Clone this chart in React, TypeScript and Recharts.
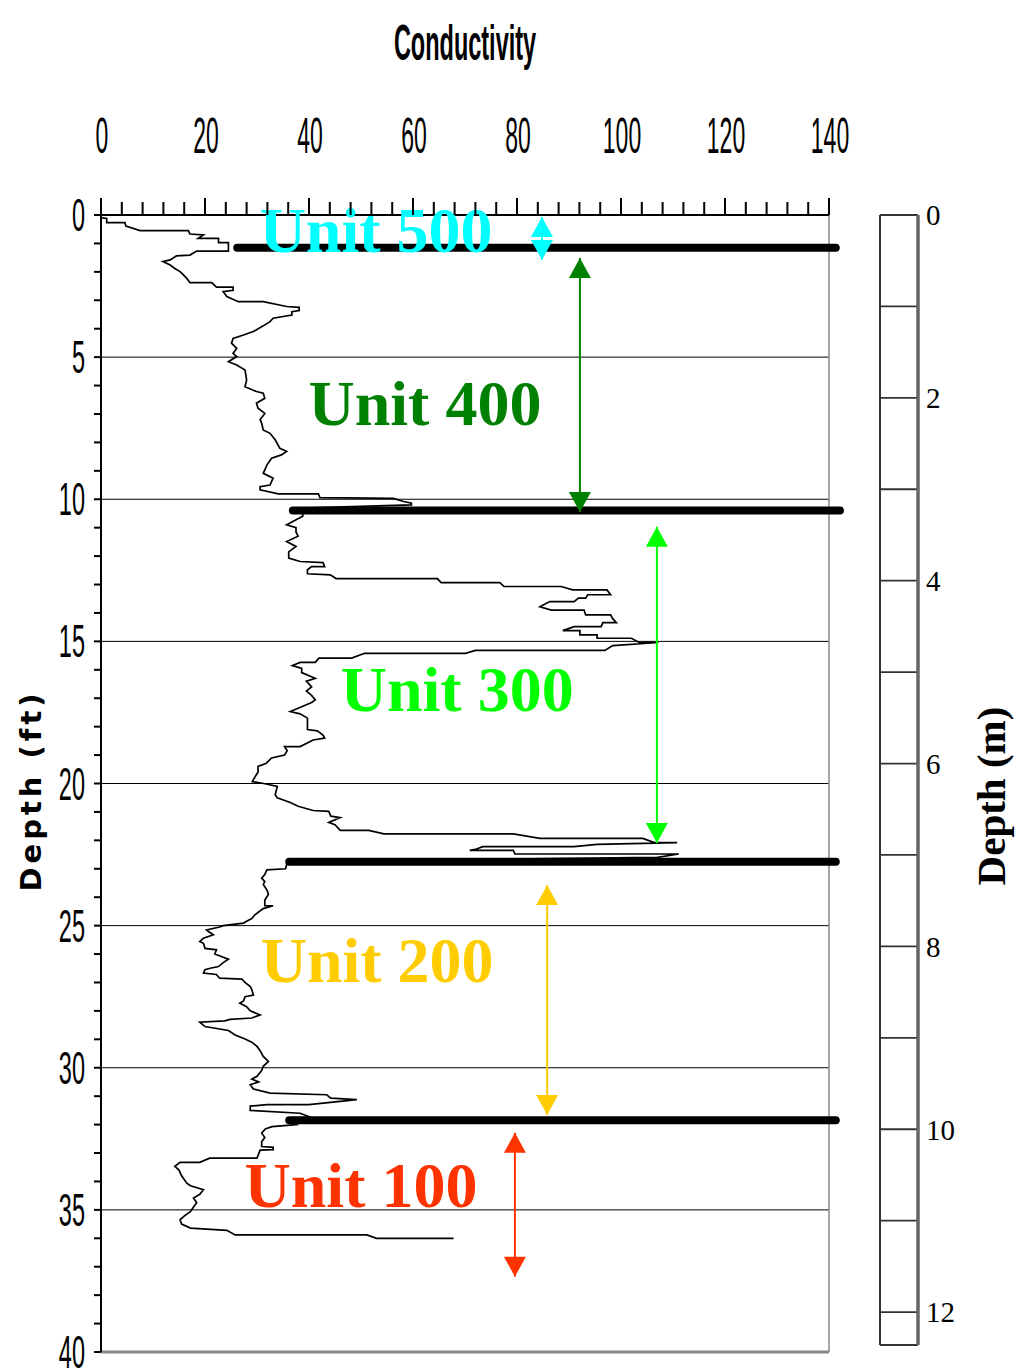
import React from 'react';
import { ComposedChart, Scatter, XAxis, YAxis, ReferenceLine, CartesianGrid } from 'recharts';

// conductivity log, pairs of [conductivity, depth in ft]
const traceUnit500 = [
  [0.2, 0.1], [1.1, 0.12], [1.1, 0.27], [4.6, 0.27], [4.8, 0.39], [7.5, 0.55], [16.8, 0.55], [17.1, 0.67],
  [19.7, 0.7], [18.7, 0.82], [22.6, 0.82], [22.6, 0.97], [24.5, 0.97], [24.5, 1.27],
];
const traceUnit400 = [
  [18.4, 1.27], [17.1, 1.41], [14.5, 1.44], [13.3, 1.58], [11.9, 1.64], [13.3, 1.76], [14.2, 1.88], [15.2, 1.99],
  [15.8, 2.1], [16.5, 2.23], [17.1, 2.38], [21.3, 2.38], [22.2, 2.54], [25.4, 2.54], [25.4, 2.65], [23.5, 2.7],
  [24.2, 2.87], [26.4, 3.05], [31.2, 3.05], [35.7, 3.22], [38.1, 3.25], [38.1, 3.36], [36.7, 3.4], [36.7, 3.52],
  [33.1, 3.63], [32.5, 3.75], [31.2, 3.9], [29.3, 4.1], [27.4, 4.22], [25.4, 4.34], [25.1, 4.51], [26.1, 4.69],
  [25.4, 4.87], [26.1, 4.98], [24.5, 5.16], [26.1, 5.28], [27.7, 5.45], [28.0, 5.8], [27.7, 6.04], [29.9, 6.21],
  [31.2, 6.27], [31.5, 6.45], [29.9, 6.62], [30.2, 6.8], [31.5, 6.98], [30.6, 7.2], [30.9, 7.33], [31.2, 7.56],
  [32.5, 7.68], [33.5, 7.91], [34.4, 8.21], [35.7, 8.32], [34.7, 8.44], [32.8, 8.56], [31.9, 8.8], [31.2, 9.09],
  [33.1, 9.26], [32.5, 9.5], [30.6, 9.56], [30.6, 9.67], [34.1, 9.81], [41.8, 9.81], [42.1, 9.94], [56.2, 9.97],
  [58.2, 10.08], [59.7, 10.14], [59.7, 10.2], [40.0, 10.3], [38.8, 10.45],
];
const traceUnit300 = [
  [38.8, 10.6], [35.7, 10.9], [37.5, 11.0], [37.5, 11.15], [37.9, 11.3], [35.7, 11.49], [37.5, 11.66], [36.1, 11.85],
  [36.1, 12.07], [38.3, 12.19], [42.7, 12.23], [43.0, 12.37], [40.5, 12.37], [39.7, 12.48], [39.7, 12.62], [44.1, 12.66],
  [45.2, 12.79], [64.7, 12.79], [65.4, 12.93], [76.7, 12.93], [77.5, 13.07], [88.5, 13.07], [90.7, 13.19], [97.3, 13.19],
  [98.0, 13.36], [93.6, 13.36], [93.2, 13.48], [91.8, 13.48], [91.0, 13.6], [86.3, 13.6], [84.4, 13.78], [86.6, 13.9],
  [92.9, 13.9], [93.2, 14.07], [98.0, 14.07], [98.4, 14.2], [99.1, 14.34], [96.5, 14.34], [96.2, 14.48], [91.0, 14.48],
  [88.8, 14.62], [92.1, 14.62], [92.1, 14.77], [95.4, 14.77], [95.4, 14.89], [102.0, 14.89], [103.5, 15.04], [107.2, 15.04],
  [98.4, 15.15], [96.9, 15.32], [72.0, 15.32], [70.1, 15.42], [50.7, 15.42], [48.2, 15.59], [41.9, 15.59], [41.2, 15.74],
  [38.3, 15.74], [36.8, 15.85], [38.6, 15.95], [38.6, 16.1], [41.2, 16.3], [39.5, 16.4], [40.5, 16.6], [39.5, 16.75],
  [40.5, 16.9], [41.2, 17.06], [40.5, 17.15], [38.6, 17.3], [36.4, 17.47], [38.3, 17.55], [39.7, 17.7], [39.7, 18.1],
  [41.6, 18.15], [42.7, 18.3], [43.0, 18.4], [40.8, 18.47], [38.3, 18.7], [35.3, 18.7], [35.8, 18.85], [35.3, 19.0],
  [32.8, 19.1], [31.7, 19.3], [30.2, 19.4], [30.2, 19.6], [29.5, 19.8], [29.1, 19.93], [31.3, 20.0], [33.9, 20.1],
  [33.5, 20.4], [33.9, 20.5], [36.4, 20.67], [37.9, 20.8], [40.8, 20.95], [43.8, 20.98], [44.2, 21.15], [46.0, 21.2],
  [43.8, 21.37], [45.0, 21.45], [46.0, 21.65], [51.5, 21.65], [54.4, 21.77], [79.3, 21.77], [84.4, 21.93], [104.2, 21.93],
  [106.4, 22.08], [110.8, 22.08], [95.4, 22.14], [91.0, 22.22], [73.4, 22.22], [72.0, 22.32], [70.9, 22.35], [79.3, 22.35],
  [79.6, 22.48], [111.1, 22.48], [107.0, 22.6], [60.0, 22.7], [38.0, 22.75],
];
const traceUnit200 = [
  [35.7, 22.85], [35.5, 23.0], [31.9, 23.04], [31.5, 23.2], [30.9, 23.33], [31.5, 23.45], [31.2, 23.55], [31.9, 23.74],
  [32.2, 23.9], [31.5, 24.1], [31.5, 24.3], [33.1, 24.3], [31.2, 24.4], [29.6, 24.62], [29.0, 24.75], [28.0, 24.85],
  [27.4, 24.91], [23.5, 25.0], [22.8, 25.05], [20.3, 25.15], [20.6, 25.2], [21.6, 25.32], [19.7, 25.44], [19.0, 25.56],
  [19.7, 25.62], [20.0, 25.8], [22.2, 25.85], [21.9, 26.0], [24.5, 26.18], [23.5, 26.3], [22.6, 26.44], [21.0, 26.5],
  [20.0, 26.55], [19.7, 26.67], [22.2, 26.72], [22.8, 26.85], [27.1, 26.88], [27.7, 27.0], [28.7, 27.14], [29.0, 27.25],
  [29.3, 27.44], [27.7, 27.5], [27.4, 27.65], [26.7, 27.73], [28.0, 27.85], [28.7, 28.0], [30.6, 28.14], [29.0, 28.25],
  [24.8, 28.3], [23.8, 28.35], [19.0, 28.4], [20.0, 28.55], [24.5, 28.69], [25.8, 28.85], [27.7, 28.99], [29.0, 29.1],
  [30.0, 29.25], [30.6, 29.4], [31.2, 29.6], [32.2, 29.78], [31.2, 29.95], [30.9, 30.1], [30.0, 30.3], [29.0, 30.4],
  [30.3, 30.5], [28.7, 30.6], [29.3, 30.75], [32.5, 30.89], [43.4, 30.95], [44.2, 31.07], [49.2, 31.12], [40.0, 31.3],
  [31.9, 31.3], [28.7, 31.35], [28.7, 31.5], [38.3, 31.6], [40.0, 31.72], [36.2, 31.85],
];
const traceUnit100 = [
  [37.6, 32.0], [32.9, 32.07], [31.6, 32.15], [30.9, 32.3], [31.5, 32.45], [30.9, 32.6], [30.9, 32.77], [33.1, 32.8],
  [33.1, 32.88], [30.6, 32.9], [30.0, 33.18], [20.9, 33.18], [19.0, 33.33], [15.2, 33.33], [14.2, 33.47], [15.0, 33.6],
  [15.5, 33.8], [16.5, 34.06], [17.2, 34.15], [19.7, 34.29], [19.0, 34.45], [17.8, 34.58], [18.4, 34.75], [17.8, 34.9],
  [17.2, 35.06], [16.1, 35.2], [15.2, 35.35], [15.5, 35.5], [17.2, 35.64], [24.2, 35.72], [25.8, 35.88], [51.1, 35.88],
  [53.0, 36.0], [67.8, 36.0],
];

// unit boundaries (thick black lines)
const boundaryDepths = [1.15, 10.4, 22.75, 31.85];
const boundaryStart = [26.2, 36.9, 36.2, 36.2];
const boundaryEnd = [141.3, 142.1, 141.3, 141.3];

// unit labels and arrows
const unitNames = ['Unit 500', 'Unit 400', 'Unit 300', 'Unit 200', 'Unit 100'];
const unitColors = ['#00ffff', '#008000', '#00ff00', '#ffcc00', '#ff3300'];
const labelX = [52.9, 62.3, 68.5, 53.1, 50.0];
const labelDepth = [1.3, 7.39, 17.45, 27.0, 34.9];
const arrowX = [84.8, 92.1, 106.9, 85.8, 79.6];
const arrowTop = [0.07, 1.51, 10.97, 23.57, 32.29];
const arrowBottom = [1.58, 10.45, 22.09, 31.66, 37.35];

const condTicks = Array.from({ length: 36 }, (_, i) => i * 4);
const depthTicks = Array.from({ length: 41 }, (_, i) => i);
const gridDepths = [5, 10, 15, 20, 25, 30, 35];
const meterTicks = [0, 1, 2, 3, 4, 5, 6, 7, 8, 9, 10, 11, 12];
const meterMax = 12.36;

const sans = "'Liberation Sans', Arial, sans-serif";
const serif = "'Liberation Serif', 'Times New Roman', serif";

const traceData = [...traceUnit500, ...traceUnit400, ...traceUnit300, ...traceUnit200, ...traceUnit100].map(
  ([c, d]) => ({ c, d })
);
const labelData = unitNames.map((name, i) => ({ c: labelX[i], d: labelDepth[i], name, color: unitColors[i] }));

const CondTick = (props: any) => {
  const { x, y, payload } = props;
  const major = payload.value % 20 === 0;
  return (
    <g>
      <line x1={x} x2={x} y1={y} y2={y - (major ? 17 : 13)} stroke="#000" strokeWidth={2} />
      {major && (
        <text
          transform={`translate(${x + 1},${y - 62}) scale(0.46,1)`}
          textAnchor="middle"
          fontSize={50}
          fontFamily={sans}
          fill="#000"
        >
          {payload.value}
        </text>
      )}
    </g>
  );
};

const DepthTick = (props: any) => {
  const { x, y, payload } = props;
  const major = payload.value % 5 === 0;
  return (
    <g>
      <line x1={x} x2={x - 7} y1={y} y2={y} stroke="#000" strokeWidth={2} />
      {major && (
        <text
          transform={`translate(${x - 16},${y + 16}) scale(0.5,1)`}
          textAnchor="end"
          fontSize={47}
          fontFamily={sans}
          fill="#000"
        >
          {payload.value}
        </text>
      )}
    </g>
  );
};

const TitleLabel = (props: any) => {
  const vb = props.viewBox;
  return (
    <text
      transform={`translate(${vb.x + vb.width / 2},${vb.y - 55}) scale(0.47,1)`}
      textAnchor="middle"
      fontSize={50}
      fontWeight="bold"
      fontFamily={sans}
      fill="#000"
    >
      Conductivity
    </text>
  );
};

const DepthFtLabel = (props: any) => {
  const vb = props.viewBox;
  return (
    <text
      transform={`translate(${vb.x},${vb.y + vb.height / 2 + 7}) rotate(-90)`}
      textAnchor="middle"
      fontSize={29}
      fontWeight="bold"
      letterSpacing={4}
      fontFamily="'DejaVu Sans', Verdana, sans-serif"
      fill="#000"
    >
      Depth (ft)
    </text>
  );
};

const DepthMLabel = (props: any) => {
  const vb = props.viewBox;
  return (
    <text
      transform={`translate(${vb.x + 87},${vb.y + vb.height / 2 + 16}) rotate(-90)`}
      textAnchor="middle"
      fontSize={41}
      fontWeight="bold"
      fontFamily={serif}
      fill="#000"
    >
      Depth (m)
    </text>
  );
};

const UnitText = (props: any) => {
  const { cx, cy, payload } = props;
  return (
    <text x={cx} y={cy} textAnchor="middle" fontSize={64} fontWeight="bold" fontFamily={serif} fill={payload.color}>
      {payload.name}
    </text>
  );
};

const ArrowHead = (props: any) => {
  const { cx, cy, payload } = props;
  const h = payload.dir === 'up' ? 20 : -20;
  return <polygon points={`${cx},${cy} ${cx - 11},${cy + h} ${cx + 11},${cy + h}`} fill={payload.color} />;
};

const NoDot = () => <g />;

export default function App() {
  return (
    <div style={{ position: 'absolute', left: 0, top: 0, width: 1022, height: 1371, background: '#fff' }}>
      <div style={{ position: 'absolute', left: 0, top: 0 }}>
        <ComposedChart width={860} height={1371} margin={{ top: 115, right: 31, bottom: 19, left: 41 }}>
          <XAxis
            type="number"
            dataKey="c"
            orientation="top"
            domain={[0, 140]}
            ticks={condTicks}
            interval={0}
            height={100}
            tickSize={0}
            tickMargin={0}
            tickLine={false}
            tick={<CondTick />}
            axisLine={{ stroke: '#000', strokeWidth: 2 }}
            label={TitleLabel}
          />
          <YAxis
            type="number"
            dataKey="d"
            domain={[0, 40]}
            reversed
            ticks={depthTicks}
            interval={0}
            width={60}
            tickSize={0}
            tickMargin={0}
            tickLine={false}
            tick={<DepthTick />}
            axisLine={{ stroke: '#000', strokeWidth: 2 }}
            label={DepthFtLabel}
          />
          {gridDepths.map((g) => (
            <ReferenceLine key={'g' + g} y={g} stroke="#000" strokeWidth={1} />
          ))}
          <ReferenceLine x={140} stroke="#888" strokeWidth={1.5} />
          <ReferenceLine y={40} stroke="#888" strokeWidth={3} />
          <Scatter data={labelData} shape={<UnitText />} isAnimationActive={false} />
          <Scatter
            data={traceData}
            line={{ stroke: '#000', strokeWidth: 1.7 }}
            shape={NoDot}
            isAnimationActive={false}
          />
          {boundaryDepths.map((d, i) => (
            <ReferenceLine
              key={'b' + i}
              segment={[
                { x: boundaryStart[i], y: d },
                { x: boundaryEnd[i], y: d },
              ]}
              stroke="#000"
              strokeWidth={8}
              strokeLinecap="round"
              ifOverflow="visible"
            />
          ))}
          {unitNames.map((name, i) => (
            <Scatter
              key={name}
              data={[
                { c: arrowX[i], d: arrowTop[i], dir: 'up', color: unitColors[i] },
                { c: arrowX[i], d: arrowBottom[i], dir: 'down', color: unitColors[i] },
              ]}
              line={{ stroke: unitColors[i], strokeWidth: 2 }}
              shape={<ArrowHead />}
              isAnimationActive={false}
            />
          ))}
        </ComposedChart>
      </div>
      <div style={{ position: 'absolute', left: 860, top: 0 }}>
        <ComposedChart width={162} height={1371} margin={{ top: 215, right: 44, bottom: 26, left: 20 }}>
          <XAxis type="number" dataKey="x" domain={[0, 1]} hide />
          <YAxis
            type="number"
            dataKey="m"
            orientation="right"
            domain={[0, meterMax]}
            reversed
            ticks={meterTicks}
            interval={0}
            width={60}
            tickLine={false}
            tickMargin={2}
            tickFormatter={(v: number) => (v % 2 === 0 ? String(v) : '')}
            tick={{ fontSize: 29, fill: '#000', fontFamily: serif }}
            axisLine={{ stroke: '#666', strokeWidth: 3.5 }}
            label={DepthMLabel}
          />
          <CartesianGrid vertical={false} stroke="#333" strokeWidth={1.8} />
          <ReferenceLine x={0} stroke="#333" strokeWidth={2} />
          <Scatter data={meterTicks.map((m) => ({ x: 0.5, m }))} shape={NoDot} isAnimationActive={false} />
        </ComposedChart>
      </div>
    </div>
  );
}
